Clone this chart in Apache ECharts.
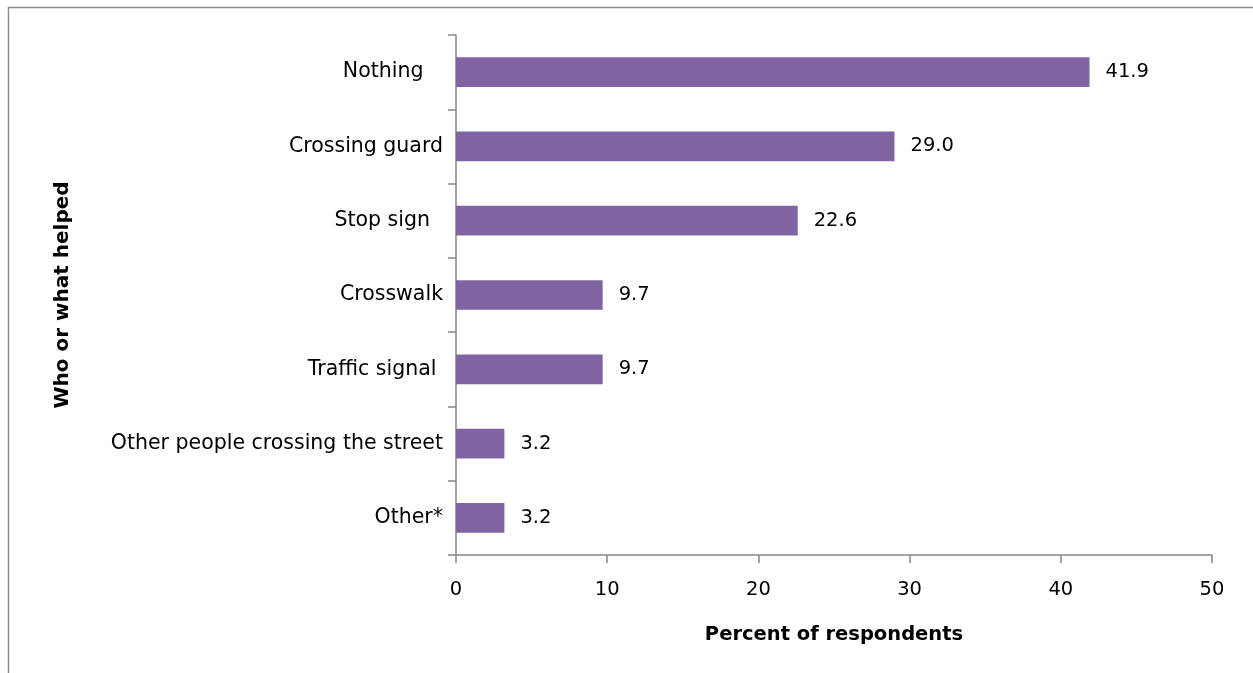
<!DOCTYPE html>
<html>
<head>
<meta charset="utf-8">
<script src="https://cdn.jsdelivr.net/npm/echarts@6/dist/echarts.min.js"></script>
<style>
  html, body { margin: 0; padding: 0; background: #ffffff; }
  #chart { width: 1253px; height: 673px; }
</style>
</head>
<body>
<div id="chart"></div>
<script>
// Who or what helped respondents cross the street
const categories = [
  'Nothing   ',
  'Crossing guard',
  'Stop sign  ',
  'Crosswalk',
  'Traffic signal ',
  'Other people crossing the street',
  'Other*'
];
const percentValues = [41.9, 29.0, 22.6, 9.7, 9.7, 3.2, 3.2];
const xTicks = { min: 0, max: 50, interval: 10 };

const FONT = '"DejaVu Sans", "Open Sans", sans-serif';
const FONT_SIZE = 19.5;
const CAT_FONT_SIZE = 20.5;
const AXIS_GRAY = '#868686';

const chart = echarts.init(document.getElementById('chart'), null, { renderer: 'canvas' });

chart.setOption({
  animation: false,
  backgroundColor: '#ffffff',
  graphic: [{
    type: 'rect',
    left: 6,
    top: 5,
    shape: { width: 1300, height: 720 },
    style: { fill: 'none', stroke: '#8c8c8c', lineWidth: 1.5 },
    silent: true
  }],
  grid: { left: 456, top: 35, right: 41, bottom: 118, containLabel: false },
  xAxis: {
    type: 'value',
    min: xTicks.min,
    max: xTicks.max,
    interval: xTicks.interval,
    name: 'Percent of respondents',
    nameLocation: 'middle',
    nameGap: 70,
    nameTextStyle: { fontFamily: FONT, fontSize: FONT_SIZE, fontWeight: 'bold', color: '#000' },
    axisLine: { show: true, lineStyle: { color: AXIS_GRAY, width: 1.5 } },
    axisTick: { show: true, length: 8, lineStyle: { color: AXIS_GRAY, width: 1.5 } },
    axisLabel: { margin: 25, fontFamily: FONT, fontSize: FONT_SIZE, color: '#000' },
    splitLine: { show: false }
  },
  yAxis: {
    type: 'category',
    inverse: true,
    data: categories,
    name: 'Who or what helped',
    nameLocation: 'middle',
    nameRotate: 90,
    nameGap: 383,
    nameTextStyle: { fontFamily: FONT, fontSize: 20, fontWeight: 'bold', color: '#000' },
    axisLine: { show: true, lineStyle: { color: AXIS_GRAY, width: 1.5 } },
    axisTick: { show: true, length: 8, alignWithLabel: false, lineStyle: { color: AXIS_GRAY, width: 1.5 } },
    axisLabel: { margin: 13, fontFamily: FONT, fontSize: CAT_FONT_SIZE, color: '#000' },
    splitLine: { show: false }
  },
  series: [{
    type: 'bar',
    data: percentValues,
    barWidth: '40%',
    itemStyle: { color: '#8064A2' },
    label: {
      show: true,
      position: 'right',
      distance: 16,
      fontFamily: FONT,
      fontSize: FONT_SIZE,
      color: '#000',
      formatter: p => p.value.toFixed(1)
    }
  }]
});
</script>
</body>
</html>
